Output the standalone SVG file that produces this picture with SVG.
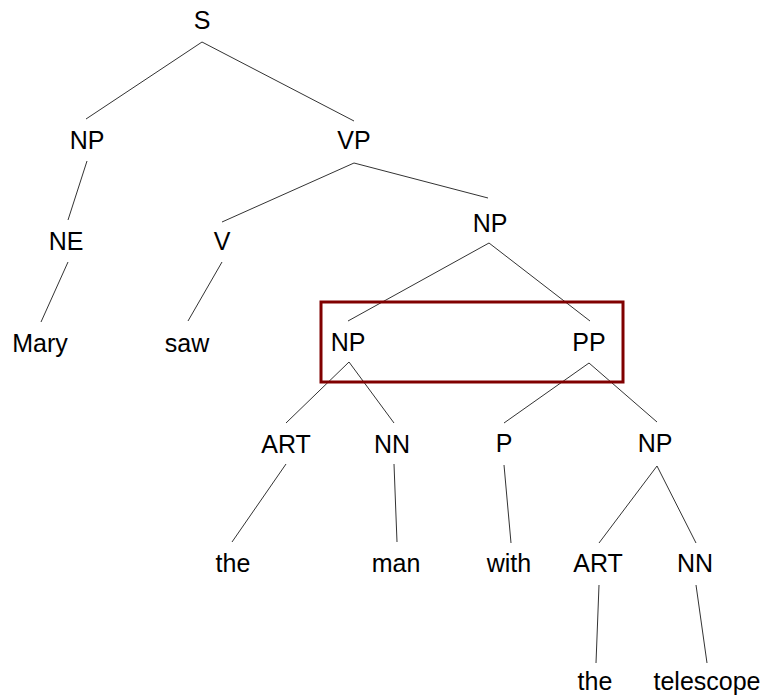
<svg xmlns="http://www.w3.org/2000/svg" width="763" height="696" viewBox="0 0 763 696">
  <style>
    .lbl { font-family: "Liberation Sans", Arial, sans-serif; font-size: 25px; fill: #000; text-anchor: middle; }
    .edge { stroke: #333; stroke-width: 1; fill: none; }
    .focus { fill: none; stroke: #800000; stroke-width: 3; }
  </style>
  <rect width="763" height="696" fill="#fff"/>

  <!-- tree edges -->
  <g id="edges">
    <line class="edge" x1="202" y1="42" x2="86" y2="119"/>
    <line class="edge" x1="202" y1="42" x2="354" y2="121"/>
    <line class="edge" x1="87" y1="161" x2="68" y2="220"/>
    <line class="edge" x1="354" y1="163" x2="222" y2="222"/>
    <line class="edge" x1="354" y1="163" x2="488" y2="198"/>
    <line class="edge" x1="68" y1="262" x2="41" y2="322"/>
    <line class="edge" x1="222" y1="262" x2="188" y2="321"/>
    <line class="edge" x1="489" y1="243" x2="348" y2="321"/>
    <line class="edge" x1="489" y1="243" x2="590" y2="321"/>
    <line class="edge" x1="349" y1="362" x2="286" y2="423"/>
    <line class="edge" x1="349" y1="362" x2="394" y2="423"/>
    <line class="edge" x1="589" y1="363" x2="504" y2="423"/>
    <line class="edge" x1="589" y1="363" x2="657" y2="422"/>
    <line class="edge" x1="286" y1="464" x2="232" y2="542"/>
    <line class="edge" x1="394" y1="464" x2="397" y2="542"/>
    <line class="edge" x1="504" y1="465" x2="511" y2="543"/>
    <line class="edge" x1="657" y1="466" x2="599" y2="543"/>
    <line class="edge" x1="657" y1="466" x2="696" y2="543"/>
    <line class="edge" x1="599" y1="585" x2="596" y2="663"/>
    <line class="edge" x1="696" y1="585" x2="707" y2="663"/>
  </g>

  <!-- highlight around the NP / PP attachment -->
  <rect id="highlight" class="focus" x="321" y="302" width="302" height="80"/>

  <!-- nodes -->
  <g id="n-S"><text class="lbl" x="202" y="29">S</text></g>
  <g id="n-NP1"><text class="lbl" x="87" y="149">NP</text></g>
  <g id="n-VP"><text class="lbl" x="354" y="149">VP</text></g>
  <g id="n-NE"><text class="lbl" x="66" y="250">NE</text></g>
  <g id="n-V"><text class="lbl" x="222" y="250">V</text></g>
  <g id="n-NP2"><text class="lbl" x="490" y="232">NP</text></g>
  <g id="n-Mary"><text class="lbl" x="40" y="352">Mary</text></g>
  <g id="n-saw"><text class="lbl" x="187" y="352">saw</text></g>
  <g id="n-NP3"><text class="lbl" x="348" y="351">NP</text></g>
  <g id="n-PP"><text class="lbl" x="589" y="351">PP</text></g>
  <g id="n-ART1"><text class="lbl" x="286" y="453">ART</text></g>
  <g id="n-NN1"><text class="lbl" x="392" y="453">NN</text></g>
  <g id="n-P"><text class="lbl" x="504" y="452">P</text></g>
  <g id="n-NP4"><text class="lbl" x="655" y="452">NP</text></g>
  <g id="n-the1"><text class="lbl" x="233" y="572">the</text></g>
  <g id="n-man"><text class="lbl" x="396" y="572">man</text></g>
  <g id="n-with"><text class="lbl" x="509" y="572">with</text></g>
  <g id="n-ART2"><text class="lbl" x="598" y="572">ART</text></g>
  <g id="n-NN2"><text class="lbl" x="695" y="572">NN</text></g>
  <g id="n-the2"><text class="lbl" x="595" y="690">the</text></g>
  <g id="n-telescope"><text class="lbl" x="707" y="690">telescope</text></g>
</svg>
